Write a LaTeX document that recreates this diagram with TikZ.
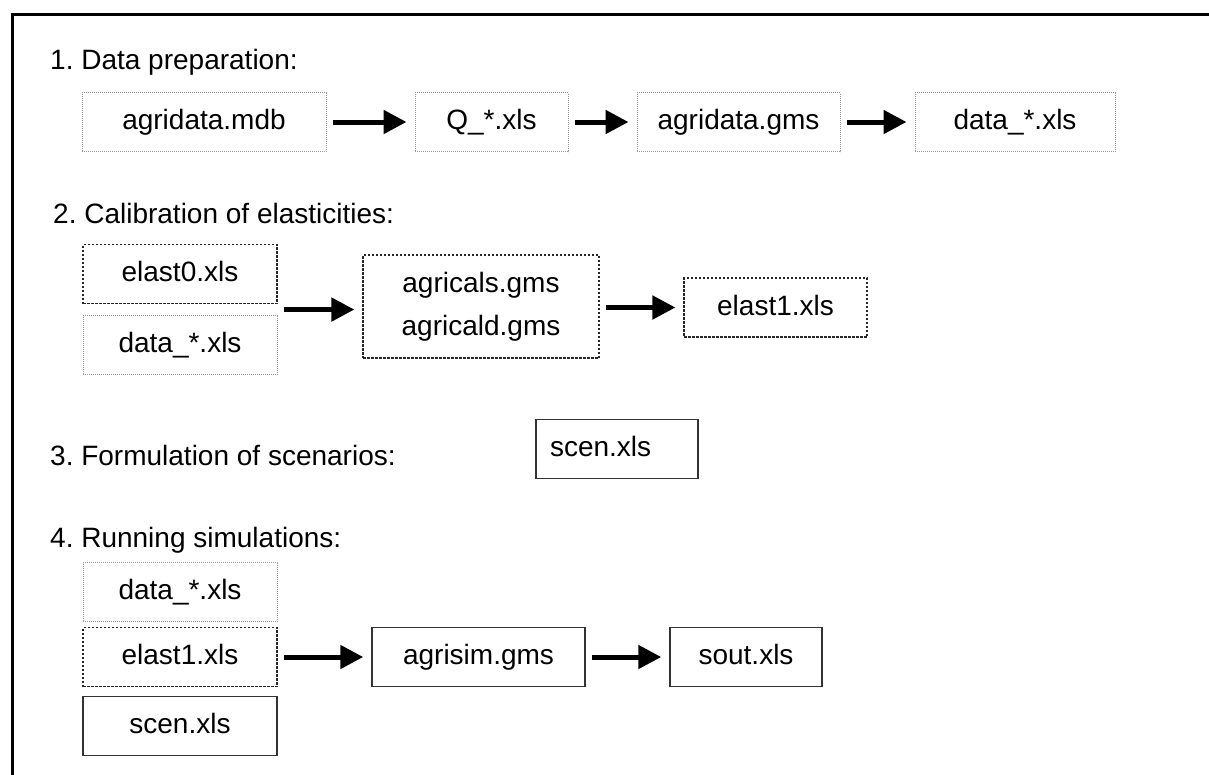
\documentclass[tikz,border=0pt]{standalone}
\usepackage{fontspec}
\setmainfont{Liberation Sans}
\usepackage{tikz}
\usetikzlibrary{arrows.meta,positioning,calc}

\begin{document}
\frenchspacing
\begin{tikzpicture}[x=1pt,y=-1pt]
% Styles

   \tikzstyle{filebox} = [minimum height=59pt, inner sep=0pt, text height=21pt, text depth=6pt]
   \tikzstyle{dotbox} = [filebox, draw=gray!80, dash pattern=on 1pt off 1pt, line width=1pt]
   \tikzstyle{dashbox} = [filebox, draw=black!85, dash pattern=on 2.5pt off 1.5pt, line width=1.2pt]
   \tikzstyle{solidbox} = [filebox, draw=black!80, line width=1.5pt]
   \tikzstyle{flow} = [line width=5pt, -{Triangle[length=23pt,width=23pt]}, shorten <=6pt, shorten >=8pt]
   \tikzstyle{step label} = [anchor=west, inner sep=0pt]

\useasboundingbox (0,0) rectangle (1209,774);
\fontsize{28}{43}\selectfont

% outer frame, runs off the page
\draw[line width=3pt] (12,780) -- (12,14) -- (1215,14);

% 1. data preparation
\node at (50,62) [step label] (lab1) {1. Data preparation:};
\node at (204,122) [dotbox, minimum width=244pt] (mdb) {agridata.mdb};
\node at (491.5,122) [dotbox, minimum width=153pt] (qxls) {Q\_*.xls};
\node at (738.5,122) [dotbox, minimum width=203pt] (dgms) {agridata.gms};
\node at (1015,122) [dotbox, minimum width=200pt] (dxls) {data\_*.xls};

\draw[flow] (mdb) -- (qxls);
\draw[flow] (qxls) -- (dgms);
\draw[flow] (dgms) -- (dxls);

% 2. calibration of elasticities
\node at (53,213) [step label] (lab2) {2. Calibration of elasticities:};
\node at (180,274) [dashbox, minimum width=194pt] (el0) {elast0.xls};
\node at (180,345) [dotbox, minimum width=194pt] (dat2) {data\_*.xls};
\node at (481,306.5) [dashbox, minimum width=236pt, minimum height=103pt, text height=, text depth=, align=center] (cals) {agricals.gms\\agricald.gms};
\node at (775.5,307.5) [dashbox, minimum width=183pt] (el1) {elast1.xls};

\coordinate (in2) at ($(el0.south east)!0.5!(dat2.north east)$);
\draw[flow] (in2) -- (in2 -| cals.west);
\draw[flow] (cals.east |- el1) -- (el1);

% 3. formulation of scenarios
\node at (50,455) [step label] (lab3) {3. Formulation of scenarios:};
\node at (617,449) [solidbox, text width=134pt, inner xsep=14pt, align=left] (scen) {scen.xls};

% 4. running simulations
\node at (50,540) [step label] (lab4) {4. Running simulations:};
\node at (180,592) [dotbox, minimum width=194pt] (dat4) {data\_*.xls};
\node at (180,657) [dashbox, minimum width=194pt] (el1b) {elast1.xls};
\node at (180,726) [solidbox, minimum width=194pt] (scen4) {scen.xls};
\node at (478.5,657) [solidbox, minimum width=213pt] (sim) {agrisim.gms};
\node at (746,657) [solidbox, minimum width=152pt] (sout) {sout.xls};

\draw[flow] (el1b) -- (sim);
\draw[flow] (sim) -- (sout);
\end{tikzpicture}
\end{document}
